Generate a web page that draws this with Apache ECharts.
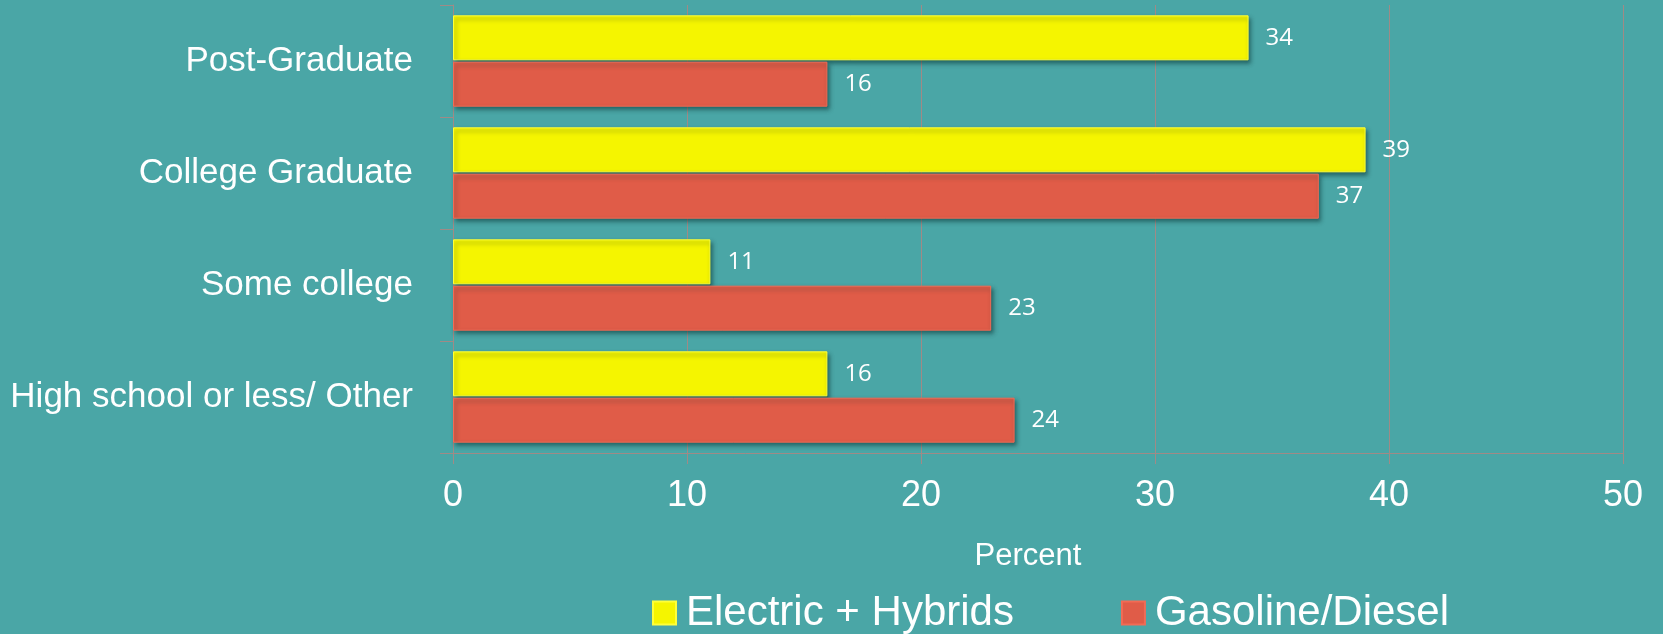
<!DOCTYPE html>
<html>
<head>
<meta charset="utf-8">
<script src="https://cdn.jsdelivr.net/npm/echarts@6/dist/echarts.min.js"></script>
<style>
  html, body { margin: 0; padding: 0; background: #4AA6A6; }
  #chart { width: 1663px; height: 634px; }
</style>
</head>
<body>
<div id="chart"></div>
<script>
const categories = ['Post-Graduate', 'College Graduate', 'Some college', 'High school or less/ Other'];
const electricHybrids = [34, 39, 11, 16];
const gasolineDiesel = [16, 37, 23, 24];
const seriesNames = ['Electric + Hybrids', 'Gasoline/Diesel'];
const xTicks = [0, 10, 20, 30, 40, 50];

const lineColor = '#a08a86';
const chart = echarts.init(document.getElementById('chart'));

const labelStyle = {
  show: true,
  position: 'right',
  distance: 17,
  color: '#ffffff',
  fontFamily: 'Open Sans',
  fontSize: 24
};

chart.setOption({
  backgroundColor: '#4AA6A6',
  animation: false,
  grid: { left: 453, right: 40, top: 5, bottom: 181, containLabel: false },
  legend: {
    data: seriesNames,
    left: 652,
    top: 592,
    padding: 0,
    itemWidth: 23,
    itemHeight: 23,
    itemGap: 107,
    icon: 'rect',
    textStyle: { color: '#ffffff', fontFamily: 'Liberation Sans', fontSize: 42, padding: [0, 0, 0, 5] }
  },
  xAxis: {
    type: 'value',
    min: xTicks[0],
    max: xTicks[xTicks.length - 1],
    interval: 10,
    name: 'Percent',
    nameLocation: 'middle',
    nameGap: 88,
    nameTextStyle: { color: '#ffffff', fontFamily: 'Liberation Sans', fontSize: 31, padding: [0, 20, 0, 0] },
    axisLine: { show: true, lineStyle: { color: lineColor, width: 1 } },
    axisTick: { show: true, length: 11, lineStyle: { color: lineColor } },
    axisLabel: { color: '#ffffff', fontFamily: 'Liberation Sans', fontSize: 36, margin: 25 },
    splitLine: { show: true, lineStyle: { color: lineColor, width: 1 } }
  },
  yAxis: {
    type: 'category',
    data: categories,
    inverse: true,
    axisLine: { show: true, lineStyle: { color: lineColor, width: 1 } },
    axisTick: { show: true, length: 13, lineStyle: { color: lineColor } },
    axisLabel: { color: '#ffffff', fontFamily: 'Liberation Sans', fontSize: 35, margin: 40 },
    splitLine: { show: false }
  },
  series: [
    {
      name: seriesNames[0],
      type: 'bar',
      data: electricHybrids,
      barWidth: 45,
      barGap: '3%',
      itemStyle: {
        color: '#F5F500',
        borderColor: '#FFFF3a',
        borderWidth: 1,
        shadowColor: 'rgba(0,40,40,0.5)',
        shadowBlur: 4,
        shadowOffsetX: 2,
        shadowOffsetY: 3
      },
      label: labelStyle
    },
    {
      name: seriesNames[1],
      type: 'bar',
      data: gasolineDiesel,
      barWidth: 45,
      barGap: '3%',
      itemStyle: {
        color: '#E05C48',
        borderColor: '#F26B55',
        borderWidth: 1,
        shadowColor: 'rgba(0,40,40,0.5)',
        shadowBlur: 4,
        shadowOffsetX: 2,
        shadowOffsetY: 3
      },
      label: labelStyle
    }
  ]
});
</script>
</body>
</html>
